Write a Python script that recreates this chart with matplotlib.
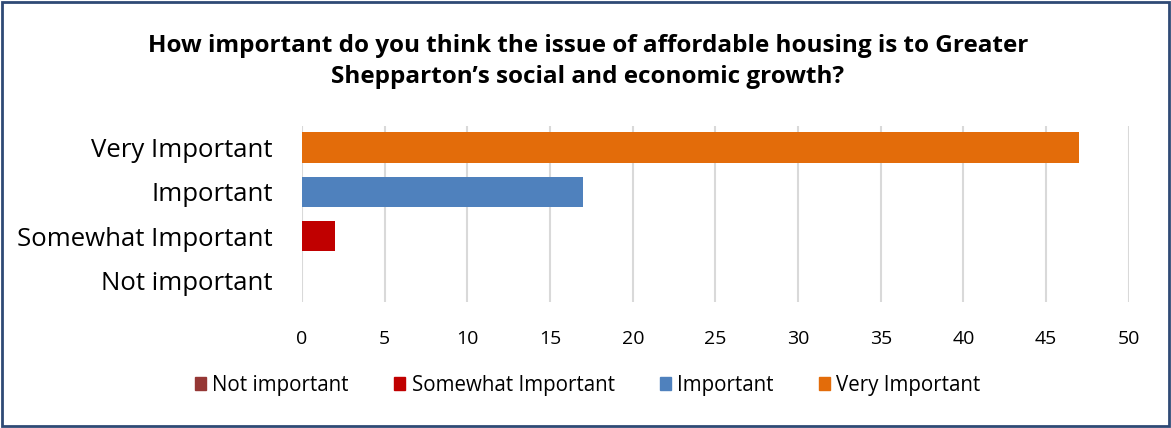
import matplotlib
matplotlib.use("Agg")
import matplotlib.pyplot as plt
from matplotlib.patches import Rectangle, Patch

# Data
categories = ["Not important", "Somewhat Important", "Important", "Very Important"]
values = [0, 2, 17, 47]
colors = ["#953735", "#C00000", "#4F81BD", "#E36C0A"]
x_ticks = [0, 5, 10, 15, 20, 25, 30, 35, 40, 45, 50]
title = "How important do you think the issue of affordable housing is to Greater\nShepparton\u2019s social and economic growth?"

plt.rcParams["font.family"] = ["Open Sans", "DejaVu Sans"]

fig = plt.figure(figsize=(11.71, 4.28), dpi=100)
ax = fig.add_axes([0.258, 0.294, 0.706, 0.412])

ax.barh(range(len(categories)), values, height=0.7, color=colors, zorder=3)
ax.set_xlim(0, 50)
ax.set_ylim(-0.5, 3.5)
ax.set_xticks(x_ticks)
ax.set_yticks(range(len(categories)))
ax.set_yticklabels(categories, fontsize=18.5)
ax.tick_params(axis="x", labelsize=14, length=0, pad=20)
ax.tick_params(axis="y", length=0, pad=21)
ax.grid(axis="x", color="#D9D9D9", linewidth=1.5, zorder=0)
for s in ax.spines.values():
    s.set_visible(False)

fig.text(0.502, 0.856, title, ha="center", va="center", fontsize=17.5,
         fontweight="bold", linespacing=1.35)

handles = [Patch(color=c, label=l) for c, l in zip(colors, categories)]
fig.legend(handles=handles, loc="center", bbox_to_anchor=(0.502, 0.1),
           ncol=4, frameon=False, fontsize=14.8, handlelength=0.55,
           handleheight=0.55, handletextpad=0.3, columnspacing=2.2)

fig.patches.append(Rectangle((0.002, 0.004), 0.996, 0.992, transform=fig.transFigure,
                             fill=False, edgecolor="#2F4A75", linewidth=2))

fig.savefig("out.png", dpi=100)
